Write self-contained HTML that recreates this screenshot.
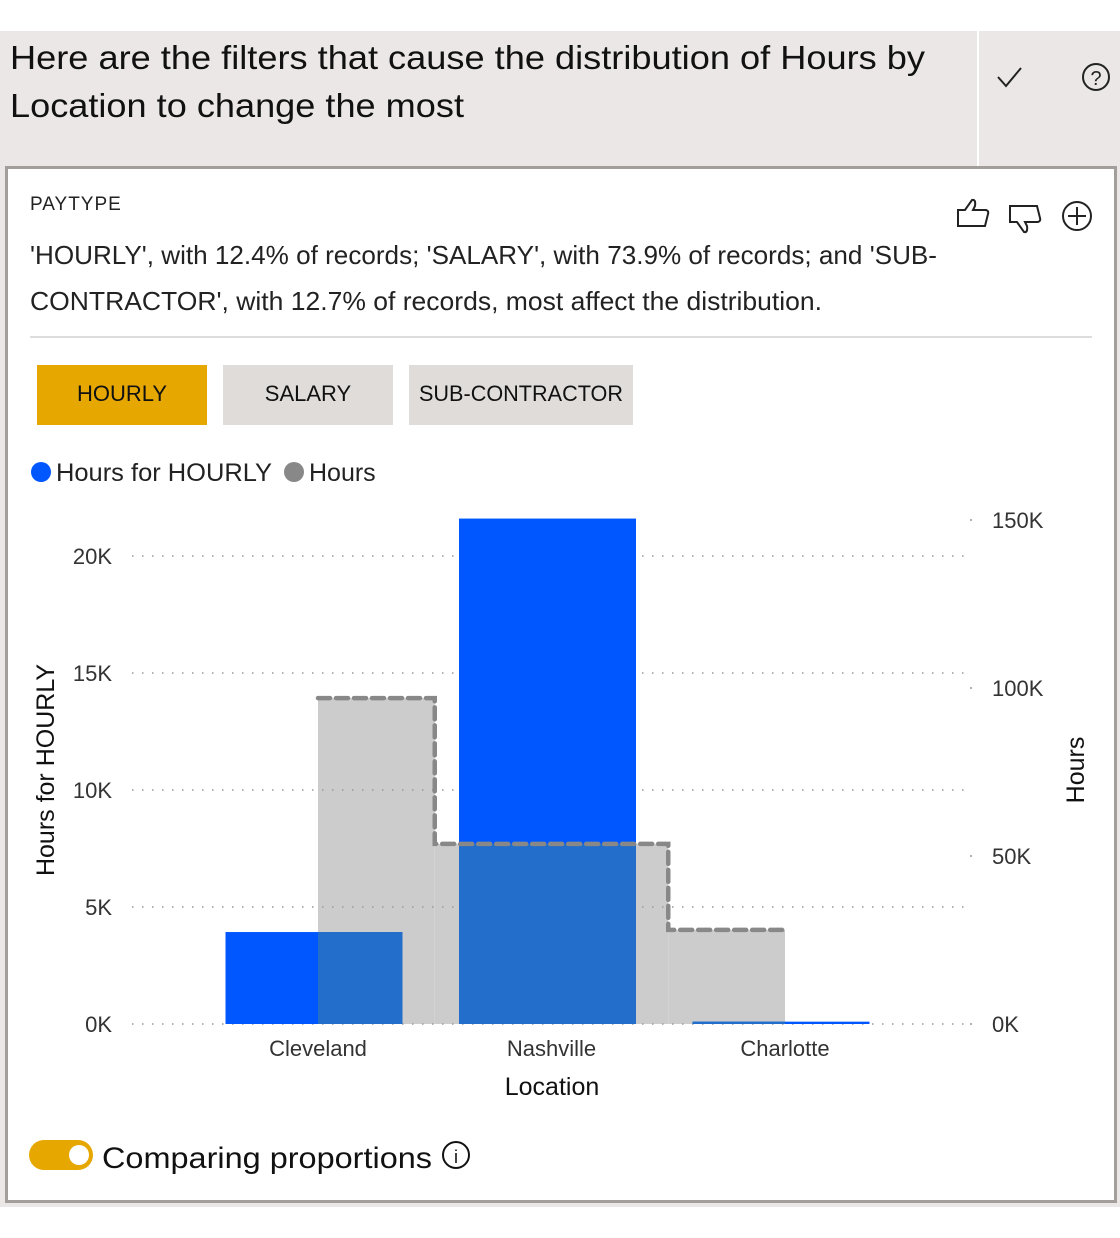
<!DOCTYPE html>
<html><head><meta charset="utf-8"><style>
html,body{margin:0;padding:0;background:#fff;}
svg{display:block;font-family:"Liberation Sans",sans-serif;}
</style></head><body>
<svg id="root" width="1120" height="1238" viewBox="0 0 1120 1238" xmlns="http://www.w3.org/2000/svg">
<rect x="0" y="31" width="1120" height="1176" fill="#EAE7E6"/>
<line x1="978" y1="31" x2="978" y2="166" stroke="#fff" stroke-width="2"/>
<text x="10" y="69" font-size="33" fill="#111" textLength="915" lengthAdjust="spacingAndGlyphs">Here are the filters that cause the distribution of Hours by</text>
<text x="10" y="117" font-size="33" fill="#111" textLength="454" lengthAdjust="spacingAndGlyphs">Location to change the most</text>
<path d="M998 77 L1006 86 L1021 68" fill="none" stroke="#222" stroke-width="2"/>
<g><circle cx="1096" cy="77" r="13" fill="none" stroke="#222" stroke-width="2"/><text x="1096" y="85" font-size="20" text-anchor="middle" fill="#222">?</text></g>
<rect x="6.5" y="167.5" width="1109" height="1034" fill="#fff" stroke="#A19E9C" stroke-width="3"/>
<text x="30" y="210" font-size="19" fill="#222" letter-spacing="1">PAYTYPE</text>
<g><path d="M958 226 L958 210 L965 210 L972 200 Q976 199 975 206 L973 210 L986 210 Q989 211 988 214 L985 226 Z" fill="none" stroke="#222" stroke-width="2"/></g>
<g><path d="M1010 206 L1010 222 L1017 222 L1024 232 Q1028 233 1027 226 L1025 222 L1038 222 Q1041 221 1040 218 L1037 206 Z" fill="none" stroke="#222" stroke-width="2"/></g>
<g><circle cx="1077" cy="216" r="14" fill="none" stroke="#222" stroke-width="2"/><path d="M1077 207 V225 M1068 216 H1086" stroke="#222" stroke-width="2"/></g>
<text x="30" y="264" font-size="26" fill="#222" textLength="907" lengthAdjust="spacingAndGlyphs">'HOURLY', with 12.4% of records; 'SALARY', with 73.9% of records; and 'SUB-</text>
<text x="30" y="310" font-size="26" fill="#222" textLength="792" lengthAdjust="spacingAndGlyphs">CONTRACTOR', with 12.7% of records, most affect the distribution.</text>
<line x1="30" y1="337" x2="1092" y2="337" stroke="#ddd" stroke-width="2"/>
<g><rect x="37" y="365" width="170" height="60" fill="#E6A700"/><text x="122" y="401" font-size="22" text-anchor="middle" fill="#111">HOURLY</text></g>
<g><rect x="223" y="365" width="170" height="60" fill="#DFDCDA"/><text x="308" y="401" font-size="22" text-anchor="middle" fill="#111">SALARY</text></g>
<g><rect x="409" y="365" width="224" height="60" fill="#DFDCDA"/><text x="521" y="401" font-size="22" text-anchor="middle" fill="#111" textLength="204" lengthAdjust="spacingAndGlyphs">SUB-CONTRACTOR</text></g>
<g><circle cx="41" cy="472" r="10" fill="#0057FF"/><text x="56" y="481" font-size="25" fill="#222" textLength="216" lengthAdjust="spacingAndGlyphs">Hours for HOURLY</text></g>
<g><circle cx="294" cy="472" r="10" fill="#888"/><text x="309" y="481" font-size="25" fill="#222">Hours</text></g>
<g id="chart"></g>
<text x="0" y="0" font-size="25" fill="#111" transform="translate(54,770) rotate(-90)" text-anchor="middle">Hours for HOURLY</text>
<text x="0" y="0" font-size="25" fill="#111" transform="translate(1084,770) rotate(-90)" text-anchor="middle">Hours</text>
<text x="552" y="1095" font-size="25" fill="#111" text-anchor="middle">Location</text>
<g><rect x="29" y="1140" width="64" height="30" rx="15" fill="#E6A700"/><circle cx="79" cy="1155" r="10" fill="#fff"/></g>
<text x="102" y="1168" font-size="30" fill="#111" textLength="330" lengthAdjust="spacingAndGlyphs">Comparing proportions</text>
<g><circle cx="456" cy="1155" r="13" fill="none" stroke="#111" stroke-width="2"/><text x="456" y="1163" font-size="18" text-anchor="middle" fill="#111">i</text></g>
</svg>
<script>
const categories = ["Cleveland","Nashville","Charlotte"];
const hourlyValues = [3.93, 21.6, 0.1];   // K, left axis
const hoursValues = [97, 53.6, 28];       // K, right axis
const leftTicks = [0,5,10,15,20];
const leftTickLabels = ["0K","5K","10K","15K","20K"];
const rightTicks = [0,50,100,150];
const rightTickLabels = ["0K","50K","100K","150K"];

const NS="http://www.w3.org/2000/svg";
const g=document.getElementById('chart');
const y0=1024;
const yL=v=>y0-v*23.4;
const yR=v=>y0-v*3.36;
const step=233.5, x0=318;
const xc=i=>x0+i*step;
function mk(tag,attrs){const e=document.createElementNS(NS,tag);for(const k in attrs)e.setAttribute(k,attrs[k]);g.appendChild(e);return e;}

const n=categories.length;
const seg=i=>[i===0?xc(0):xc(i)-step/2, i===n-1?xc(n-1):xc(i)+step/2];
// gray step area (right axis)
hoursValues.forEach((v,i)=>{
  const [a,b]=seg(i);
  const r=mk('rect',{x:a,y:yR(v),width:b-a,height:y0-yR(v),fill:'#CCCCCC'});
  
  
});
leftTicks.forEach((t,i)=>{
  const l=mk('line',{x1:132,x2:965,y1:yL(t),y2:yL(t),stroke:'#999','stroke-width':1.5,'stroke-dasharray':'1.5 8.5'});
  
  
  const tx=mk('text',{x:112,y:yL(t)+8,'font-size':22,'text-anchor':'end',fill:'#333'});
  tx.textContent=leftTickLabels[i];
  
  
});
rightTicks.forEach((t,i)=>{
  const d=mk('circle',{cx:971,cy:yR(t),r:1,fill:'#999'});
  
  
  const tx=mk('text',{x:992,y:yR(t)+8,'font-size':22,fill:'#333'});
  tx.textContent=rightTickLabels[i];
  
  
});
// blue bars (left axis)
const bw=177;
hourlyValues.forEach((v,i)=>{
  const bx=xc(i)-4-bw/2;
  const r=mk('rect',{x:bx,y:yL(v),width:bw,height:Math.max(2,y0-yL(v)),fill:'#0057FF'});
  
  
  for(let j=0;j<n;j++){
    const [a,b]=seg(j);
    const L=Math.max(a,bx),R=Math.min(b,bx+bw);
    if(R>L){
      const top=Math.max(yL(v),yR(hoursValues[j]));
      if(top<y0){
        const o=mk('rect',{x:L,y:top,width:R-L,height:y0-top,fill:'#236ECA'});
        
        
      }
    }
  }
});
// dashed step line
let d='';
hoursValues.forEach((v,i)=>{const [a,b]=seg(i);d+=(i===0?'M':'L')+a+' '+yR(v)+' L'+b+' '+yR(v)+' ';});
const p=mk('path',{d:d,fill:'none',stroke:'#888','stroke-width':4.5,'stroke-dasharray':'12 6','stroke-linecap':'round'});


categories.forEach((c,i)=>{
  const t=mk('text',{x:xc(i),y:1056,'font-size':22,'text-anchor':'middle',fill:'#333'});
  t.textContent=c;
  
  
});
</script>
</body></html>
